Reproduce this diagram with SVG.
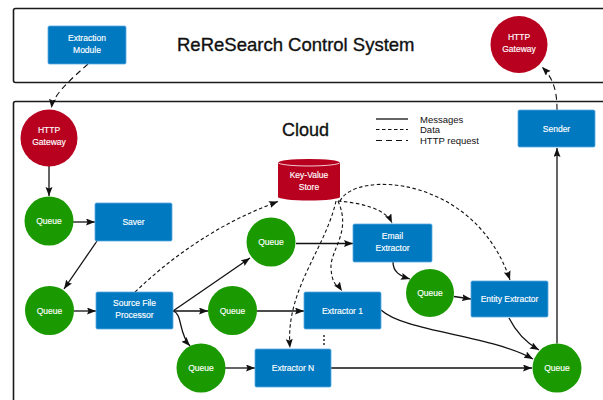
<svg xmlns="http://www.w3.org/2000/svg" width="603" height="400" viewBox="0 0 603 400">
<style>
  .frame { fill: none; stroke: #1a1a1a; stroke-width: 1.6; }
  .box { fill: #0079C1; stroke: #5aaae2; stroke-width: 0.8; }
  .red { fill: #B8001F; }
  .green { fill: #1A9A00; }
  .lbl { font-family: "Liberation Sans", Arial, sans-serif; font-size: 8.5px; fill: #ffffff; stroke: #ffffff; stroke-width: 0.15; text-anchor: middle; }
  .big { font-family: "Liberation Sans", Arial, sans-serif; fill: #111111; stroke: #111111; stroke-width: 0.35; }
  .leg { font-family: "Liberation Sans", Arial, sans-serif; font-size: 9.5px; fill: #111111; }
  .msg { fill: none; stroke: #111111; stroke-width: 1.3; }
  .data { fill: none; stroke: #111111; stroke-width: 1.1; stroke-dasharray: 3.5 2.5; }
  .http { fill: none; stroke: #111111; stroke-width: 1.1; stroke-dasharray: 6 4; }
</style>
<defs>
  <marker id="arr" markerUnits="userSpaceOnUse" markerWidth="10" markerHeight="8" refX="9" refY="3.5" orient="auto">
    <path d="M0,0 L9,3.5 L0,7 L1.5,3.5 Z" fill="#111111" stroke="none"/>
  </marker>
</defs>

<rect class="frame" x="13.5" y="8.5" width="620" height="74" rx="2"/>
<rect class="frame" x="13.5" y="101.5" width="620" height="320" rx="2"/>
<text class="big" x="177" y="51" font-size="18.5">ReReSearch Control System</text>
<text class="big" x="282" y="136" font-size="18">Cloud</text>

<g id="legend">
  <line class="msg" x1="376" y1="119" x2="408" y2="119"/>
  <line class="data" x1="376" y1="129.5" x2="408" y2="129.5"/>
  <line class="http" x1="376" y1="140.5" x2="408" y2="140.5"/>
  <text class="leg" x="420" y="122.5">Messages</text>
  <text class="leg" x="420" y="133">Data</text>
  <text class="leg" x="420" y="143.5">HTTP request</text>
</g>

<g id="connectors">
  <path class="http" d="M88,64 C70,80 53,95 51.5,108" marker-end="url(#arr)"/>
  <path class="http" d="M557,110 C557,90 553,78 542,67" marker-end="url(#arr)"/>
  <path class="msg" d="M49,166 L49,196" marker-end="url(#arr)"/>
  <path class="msg" d="M73,222 L95,222" marker-end="url(#arr)"/>
  <path class="msg" d="M97,241 L64,289" marker-end="url(#arr)"/>
  <path class="msg" d="M74,311 L96,311" marker-end="url(#arr)"/>
  <path class="msg" d="M173,311 L250,258" marker-end="url(#arr)"/>
  <path class="msg" d="M173,311 L208,311" marker-end="url(#arr)"/>
  <path class="msg" d="M173,311 C183,314 178,333 190,346" marker-end="url(#arr)"/>
  <path class="msg" d="M296,243.5 L353,243.5" marker-end="url(#arr)"/>
  <path class="msg" d="M257,311 L304,311" marker-end="url(#arr)"/>
  <path class="msg" d="M225,368 L255,368" marker-end="url(#arr)"/>
  <path class="msg" d="M393,262 C393,272 400,276 410,279" marker-end="url(#arr)"/>
  <path class="msg" d="M454,296.5 L471,299" marker-end="url(#arr)"/>
  <path class="msg" d="M331,368 L532,368" marker-end="url(#arr)"/>
  <path class="msg" d="M381,310 C405,332 490,335 533,359" marker-end="url(#arr)"/>
  <path class="msg" d="M509,318 C515,330 525,342 539,350" marker-end="url(#arr)"/>
  <path class="msg" d="M557,343.5 L557,148" marker-end="url(#arr)"/>
  <path class="data" d="M135,292 Q200,230 278,201.5" marker-end="url(#arr)"/>
  <path class="data" d="M338,201 C360,203 385,208 392,223" marker-end="url(#arr)"/>
  <path class="data" d="M340,201 C355,170 475,175 510,280" marker-end="url(#arr)"/>
  <path class="data" d="M338,201 C352,232 330,250 331,268 S338,285 342,291" marker-end="url(#arr)"/>
  <path class="data" d="M336,201 C325,250 285,290 290,348" marker-end="url(#arr)"/>
  <circle cx="324" cy="336" r="0.9" fill="#111"/>
  <circle cx="324" cy="340" r="0.9" fill="#111"/>
  <circle cx="324" cy="344" r="0.9" fill="#111"/>
</g>

<g id="extraction-module">
  <rect class="box" x="48" y="26" width="78" height="38" rx="1.5"/>
  <text class="lbl" x="87" y="41">Extraction</text>
  <text class="lbl" x="87" y="53">Module</text>
</g>
<g id="http-gateway-top">
  <circle class="red" cx="519" cy="44.5" r="28.5"/>
  <text class="lbl" x="519" y="40" font-size="9">HTTP</text>
  <text class="lbl" x="519" y="52">Gateway</text>
</g>
<g id="http-gateway-cloud">
  <circle class="red" cx="49" cy="138" r="28.5"/>
  <text class="lbl" x="49" y="133" font-size="9">HTTP</text>
  <text class="lbl" x="49" y="145">Gateway</text>
</g>
<g id="queue1">
  <circle class="green" cx="49" cy="221" r="24.5"/>
  <text class="lbl" x="49" y="224">Queue</text>
</g>
<g id="saver">
  <rect class="box" x="95" y="203" width="77" height="38" rx="1.5"/>
  <text class="lbl" x="133.5" y="225">Saver</text>
</g>
<g id="queue2">
  <circle class="green" cx="49.5" cy="310.5" r="24.5"/>
  <text class="lbl" x="49.5" y="313.5">Queue</text>
</g>
<g id="source-file-processor">
  <rect class="box" x="96" y="292" width="77" height="37" rx="1.5"/>
  <text class="lbl" x="134.5" y="306">Source File</text>
  <text class="lbl" x="134.5" y="318">Processor</text>
</g>
<g id="key-value-store">
  <path class="red" d="M278,162.5 A31,3.5 0 0 1 340,162.5 V197 A31,3.5 0 0 1 278,197 Z"/>
  <path d="M278,162.5 A31,3.5 0 0 0 340,162.5" fill="none" stroke="#ffffff" stroke-width="0.8"/>
  <text class="lbl" x="309" y="178">Key-Value</text>
  <text class="lbl" x="309" y="190">Store</text>
</g>
<g id="queue3">
  <circle class="green" cx="271" cy="242" r="24.5"/>
  <text class="lbl" x="271" y="245">Queue</text>
</g>
<g id="queue4">
  <circle class="green" cx="232.5" cy="310.5" r="24.5"/>
  <text class="lbl" x="232.5" y="313.5">Queue</text>
</g>
<g id="queue5">
  <circle class="green" cx="201" cy="368" r="24.5"/>
  <text class="lbl" x="201" y="371">Queue</text>
</g>
<g id="email-extractor">
  <rect class="box" x="353" y="224" width="79" height="38" rx="1.5"/>
  <text class="lbl" x="392.5" y="239">Email</text>
  <text class="lbl" x="392.5" y="251">Extractor</text>
</g>
<g id="extractor-1">
  <rect class="box" x="304" y="292" width="77" height="37" rx="1.5"/>
  <text class="lbl" x="342.5" y="313.5">Extractor 1</text>
</g>
<g id="extractor-n">
  <rect class="box" x="255" y="349" width="76" height="38" rx="1.5"/>
  <text class="lbl" x="293" y="371">Extractor N</text>
</g>
<g id="queue6">
  <circle class="green" cx="430" cy="293" r="24"/>
  <text class="lbl" x="430" y="296">Queue</text>
</g>
<g id="entity-extractor">
  <rect class="box" x="471" y="281" width="77" height="36" rx="1.5"/>
  <text class="lbl" x="509.5" y="302">Entity Extractor</text>
</g>
<g id="queue7">
  <circle class="green" cx="557" cy="368" r="24.5"/>
  <text class="lbl" x="557" y="371">Queue</text>
</g>
<g id="sender">
  <rect class="box" x="518" y="110" width="77" height="37" rx="1.5"/>
  <text class="lbl" x="556.5" y="131.5">Sender</text>
</g>
</svg>
